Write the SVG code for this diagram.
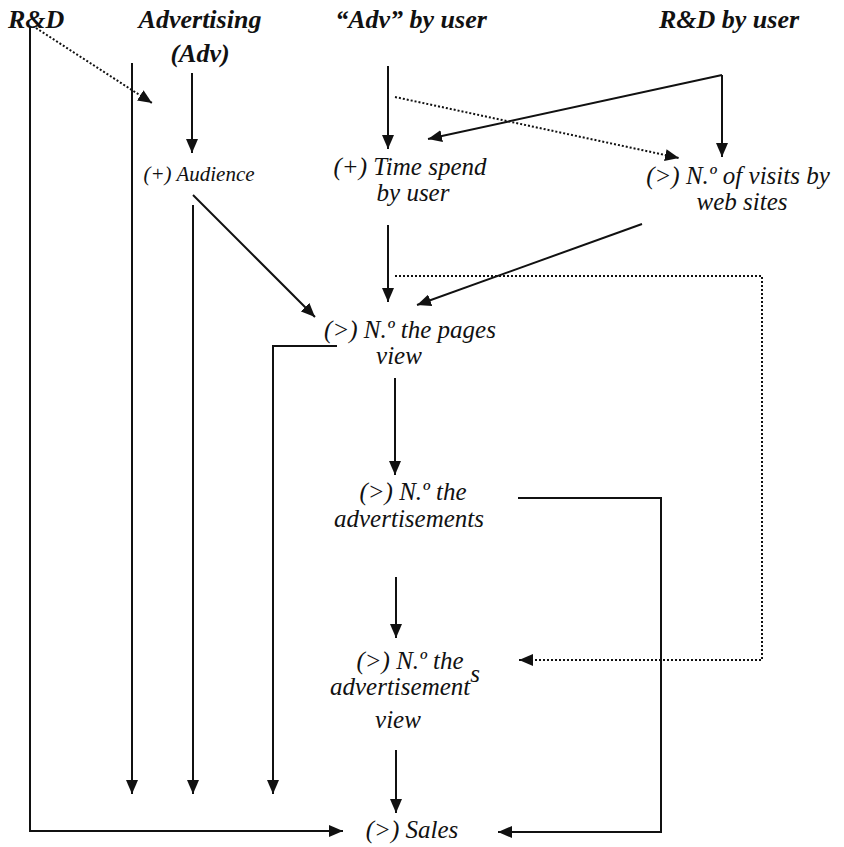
<svg xmlns="http://www.w3.org/2000/svg" width="844" height="847" viewBox="0 0 844 847">
<defs>
<style>
text{font-family:"Liberation Serif","Times New Roman",serif;font-style:italic;fill:#111}
.t{font-weight:bold;font-size:26px}
.n{font-size:25px}
.s{font-size:21px}
.c path,.c polyline,.c line{fill:none;stroke:#111;stroke-width:2}
.c .d{stroke-dasharray:2 2;stroke-width:2}
</style>
<marker id="a" markerUnits="userSpaceOnUse" markerWidth="14" markerHeight="12" refX="14" refY="6" orient="auto">
<path d="M0,0 L14,6 L0,12 z" fill="#111"/>
</marker>
</defs>
<rect width="844" height="847" fill="#fff"/>
<g id="rd"><text class="t" x="8" y="28">R&amp;D</text></g>
<g id="adv"><text class="t" x="200" y="28" text-anchor="middle">Advertising</text><text class="t" x="200" y="62" text-anchor="middle">(Adv)</text></g>
<g id="advuser"><text class="t" x="411" y="28" text-anchor="middle">“Adv” by user</text></g>
<g id="rduser"><text class="t" x="729" y="28" text-anchor="middle">R&amp;D by user</text></g>
<g id="audience"><text class="s" x="199" y="181" text-anchor="middle">(+) Audience</text></g>
<g id="timespend"><text class="n" x="410" y="175" text-anchor="middle">(+) Time spend</text><text class="n" x="413" y="201" text-anchor="middle">by user</text></g>
<g id="visits"><text class="n" x="738" y="184" text-anchor="middle">(&gt;) N.º of visits by</text><text class="n" x="742" y="210" text-anchor="middle">web sites</text></g>
<g id="pages"><text class="n" x="410" y="338" text-anchor="middle">(&gt;) N.º the pages</text><text class="n" x="399" y="364" text-anchor="middle">view</text></g>
<g id="ads"><text class="n" x="413" y="500" text-anchor="middle">(&gt;) N.º the</text><text class="n" x="409" y="527" text-anchor="middle">advertisements</text></g>
<g id="adview"><text class="n" x="410" y="669" text-anchor="middle">(&gt;) N.º the</text><text class="n" x="330" y="695">advertisement<tspan dy="-13">s</tspan></text><text class="n" x="398" y="728" text-anchor="middle">view</text></g>
<g id="sales"><text class="n" x="412" y="838" text-anchor="middle">(&gt;) Sales</text></g>
<g id="connectors" class="c">
<polyline points="30,27 30,831 343,831" marker-end="url(#a)"/>
<line class="d" x1="36" y1="28" x2="152" y2="103" marker-end="url(#a)"/>
<line x1="132" y1="63" x2="132" y2="794" marker-end="url(#a)"/>
<line x1="192" y1="73" x2="192" y2="153" marker-end="url(#a)"/>
<line x1="193" y1="205" x2="193" y2="794" marker-end="url(#a)"/>
<line x1="193" y1="195" x2="315" y2="317" marker-end="url(#a)"/>
<line x1="388" y1="66" x2="388" y2="149" marker-end="url(#a)"/>
<line class="d" x1="395" y1="97" x2="679" y2="158" marker-end="url(#a)"/>
<polyline points="722,75 428,139" marker-end="url(#a)"/>
<line x1="722" y1="75" x2="722" y2="157" marker-end="url(#a)"/>
<line x1="388" y1="225" x2="388" y2="302" marker-end="url(#a)"/>
<line x1="642" y1="224" x2="417" y2="305" marker-end="url(#a)"/>
<polyline class="d" points="395,276 762,276 762,660 519,660" marker-end="url(#a)"/>
<polyline points="337,346 273,346 273,794" marker-end="url(#a)"/>
<line x1="395" y1="378" x2="395" y2="475" marker-end="url(#a)"/>
<polyline points="518,498 661,498 661,832 498,832" marker-end="url(#a)"/>
<line x1="396" y1="577" x2="396" y2="638" marker-end="url(#a)"/>
<line x1="396" y1="750" x2="396" y2="813" marker-end="url(#a)"/>
</g>
</svg>
